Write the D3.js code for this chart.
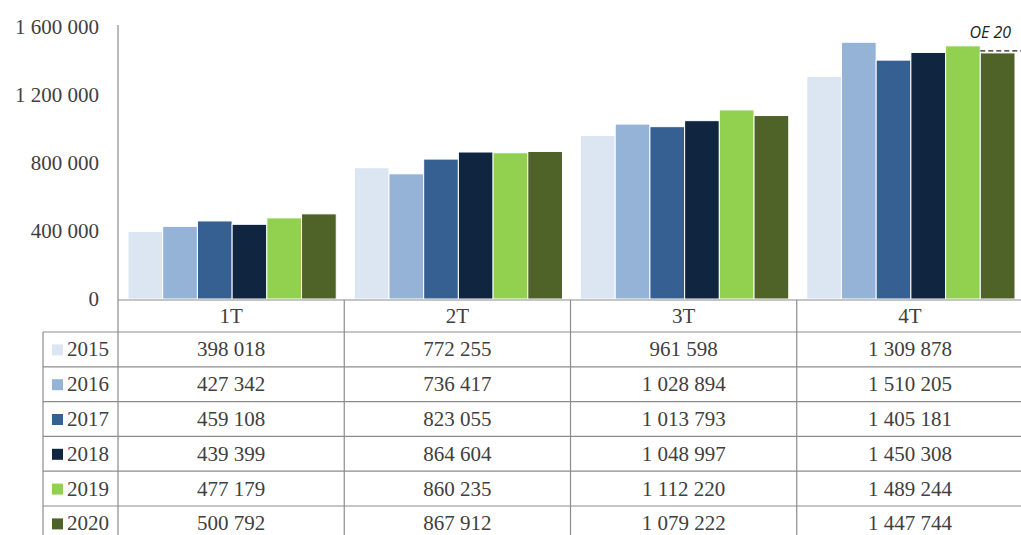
<!DOCTYPE html>
<html>
<head>
<meta charset="utf-8">
<script src="https://cdn.jsdelivr.net/npm/d3@7"></script>
<style>
  html, body { margin: 0; padding: 0; background: #ffffff; }
  svg { display: block; }
</style>
</head>
<body>
<svg id="chart" width="1021" height="535"></svg>
<script>
// Quarterly cumulative values by year
const quarters = ["1T", "2T", "3T", "4T"];
const years = ["2015", "2016", "2017", "2018", "2019", "2020"];
const v2015 = [398018, 772255, 961598, 1309878];
const v2016 = [427342, 736417, 1028894, 1510205];
const v2017 = [459108, 823055, 1013793, 1405181];
const v2018 = [439399, 864604, 1048997, 1450308];
const v2019 = [477179, 860235, 1112220, 1489244];
const v2020 = [500792, 867912, 1079222, 1447744];
const yTicks = [0, 400000, 800000, 1200000, 1600000];
const yearColors = ["#dce6f2", "#95b3d7", "#376092", "#10253f", "#92d050", "#4f6228"];
// Target marker shown above the last 2020 bar
const oeLabel = "OE 20";
const oeValue = 1460000;

const series = [v2015, v2016, v2017, v2018, v2019, v2020];

const svg = d3.select("#chart");
const axisX = 118, plotRight = 1023;
const yZero = 299, yTop = 27;

// space-separated thousands
const fmt = d3.formatLocale({ decimal: ",", thousands: "\u00a0", grouping: [3], currency: ["", ""] }).format(",d");
const fmtSp = v => fmt(v).replace(/\u00a0/g, " ");

const x = d3.scaleBand().domain(quarters).range([axisX, plotRight]).padding(0);
const xi = d3.scaleBand().domain(years).range([10, x.bandwidth() - 8]).padding(0);
const y = d3.scaleLinear().domain([0, 1600000]).range([yZero, yTop]);
const color = d3.scaleOrdinal().domain(years).range(yearColors);

const serif = "'Liberation Serif', 'Times New Roman', serif";
const fs = 21;
const textCol = "#404040";
const lineCol = "#8c8c8c";

// Y axis
const yAxis = svg.append("g").attr("transform", `translate(${axisX},0)`)
  .call(d3.axisLeft(y).tickValues(yTicks).tickSize(0).tickPadding(19).tickFormat(fmtSp));
yAxis.select(".domain").remove();
yAxis.selectAll("text")
  .attr("font-family", serif).attr("font-size", fs).attr("fill", textCol);

// Bars
const groups = svg.append("g").selectAll("g")
  .data(quarters)
  .join("g")
  .attr("transform", q => `translate(${x(q)},0)`);

groups.selectAll("rect")
  .data((q, qi) => years.map((yr, k) => ({ year: yr, value: series[k][qi] })))
  .join("rect")
  .attr("x", d => xi(d.year))
  .attr("width", xi.bandwidth())
  .attr("y", d => y(d.value))
  .attr("height", d => yZero - y(d.value))
  .attr("fill", d => color(d.year))
  .attr("stroke", "#ffffff")
  .attr("stroke-width", 1);

// Target dashed marker and label on the last group
const lastQ = quarters[quarters.length - 1];
const lastYear = years[years.length - 1];
const mx0 = x(lastQ) + xi(lastYear);
svg.append("line")
  .attr("x1", mx0).attr("x2", mx0 + xi.bandwidth() + 6)
  .attr("y1", y(oeValue)).attr("y2", y(oeValue))
  .attr("stroke", "#222").attr("stroke-width", 1.3)
  .attr("stroke-dasharray", "5,3");
svg.append("text")
  .attr("x", 1011).attr("y", 38)
  .attr("text-anchor", "end")
  .attr("font-family", "'Open Sans', 'Liberation Sans', sans-serif")
  .attr("font-style", "italic")
  .attr("font-size", 16)
  .attr("fill", "#222")
  .text(oeLabel);

// Data table below the plot
const tableLeft = 43;
const headerTop = 300, headerBottom = 332;
const rowH = 34.8;
const rowTop = i => headerBottom + i * rowH;
const table = svg.append("g");

// horizontal rules
table.append("line")
  .attr("x1", axisX).attr("x2", plotRight).attr("y1", headerTop).attr("y2", headerTop)
  .attr("stroke", lineCol).attr("stroke-width", 1.2);
years.forEach((yr, i) => {
  table.append("line")
    .attr("x1", tableLeft).attr("x2", plotRight)
    .attr("y1", rowTop(i)).attr("y2", rowTop(i))
    .attr("stroke", lineCol).attr("stroke-width", 1.2);
});
// vertical rules: axis line continues through the table
table.append("line")
  .attr("x1", axisX).attr("x2", axisX).attr("y1", 25).attr("y2", 535)
  .attr("stroke", lineCol).attr("stroke-width", 1.2);
table.append("line")
  .attr("x1", tableLeft).attr("x2", tableLeft).attr("y1", headerBottom).attr("y2", 535)
  .attr("stroke", lineCol).attr("stroke-width", 1.2);
quarters.slice(1).forEach(q => {
  table.append("line")
    .attr("x1", x(q)).attr("x2", x(q)).attr("y1", headerTop).attr("y2", 535)
    .attr("stroke", lineCol).attr("stroke-width", 1.2);
});

// category headers
table.selectAll("text.cat")
  .data(quarters)
  .join("text")
  .attr("class", "cat")
  .attr("x", q => x(q) + x.bandwidth() / 2)
  .attr("y", (headerTop + headerBottom) / 2 + 7)
  .attr("text-anchor", "middle")
  .attr("font-family", serif).attr("font-size", fs).attr("fill", textCol)
  .text(q => q);

// legend keys and year labels
years.forEach((yr, i) => {
  const cy = rowTop(i) + rowH / 2;
  table.append("rect")
    .attr("x", 52).attr("y", cy - 5).attr("width", 11).attr("height", 11)
    .attr("fill", color(yr));
  table.append("text")
    .attr("x", 67).attr("y", cy + 7)
    .attr("font-family", serif).attr("font-size", fs).attr("fill", textCol)
    .text(yr);
  quarters.forEach((q, qi) => {
    table.append("text")
      .attr("x", x(q) + x.bandwidth() / 2)
      .attr("y", cy + 7)
      .attr("text-anchor", "middle")
      .attr("font-family", serif).attr("font-size", fs).attr("fill", textCol)
      .text(fmtSp(series[i][qi]));
  });
});
</script>
</body>
</html>
